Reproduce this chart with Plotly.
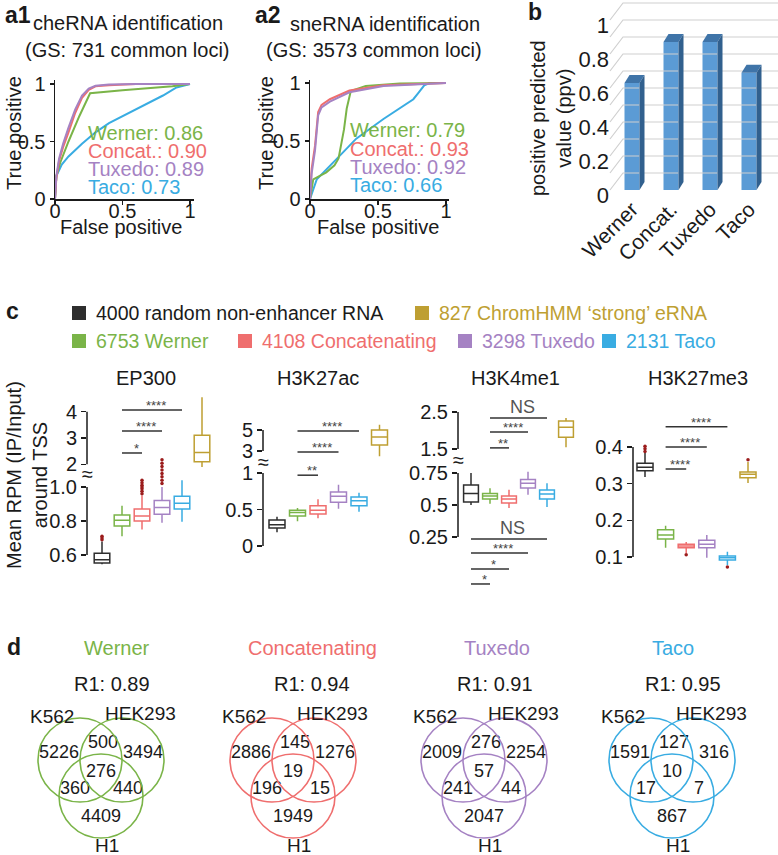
import plotly.graph_objects as go

W, H = 778, 855
FONT = "Liberation Sans, Arial, Helvetica, sans-serif"
INK = "#1a1a1a"

# ======================= DATA =======================
methods = ["Werner", "Concat.", "Tuxedo", "Taco"]
method_colors = ["#7ab448", "#ef6e6e", "#a582c3", "#39ace2"]

# ---- a1: cheRNA identification ROC ----
a1_auc = ["0.86", "0.90", "0.89", "0.73"]
a1_werner_fpr = [0, 0.01, 0.04, 0.10, 0.18, 0.26, 0.50, 0.87, 1.0]
a1_werner_tpr = [0, 0.20, 0.32, 0.50, 0.72, 0.92, 0.945, 0.98, 1.0]
a1_concat_fpr = [0, 0.01, 0.03, 0.06, 0.10, 0.15, 0.20, 0.25, 0.30, 0.40, 0.60, 1.0]
a1_concat_tpr = [0, 0.18, 0.33, 0.45, 0.58, 0.75, 0.88, 0.95, 0.98, 0.99, 1.0, 1.0]
a1_tuxedo_fpr = [0, 0.01, 0.03, 0.06, 0.10, 0.15, 0.20, 0.25, 0.30, 0.40, 0.60, 1.0]
a1_tuxedo_tpr = [0, 0.20, 0.35, 0.48, 0.62, 0.78, 0.90, 0.96, 0.985, 0.995, 1.0, 1.0]
a1_taco_fpr = [0, 0.01, 0.05, 0.10, 0.20, 0.30, 0.40, 0.50, 0.60, 0.70, 0.80, 0.90, 1.0]
a1_taco_tpr = [0, 0.20, 0.30, 0.37, 0.48, 0.58, 0.66, 0.72, 0.78, 0.84, 0.90, 0.97, 1.0]

# ---- a2: sneRNA identification ROC ----
a2_auc = ["0.79", "0.93", "0.92", "0.66"]
a2_werner_fpr = [0, 0.024, 0.12, 0.18, 0.21, 0.25, 0.27, 0.30, 0.41, 0.66, 1.0]
a2_werner_tpr = [0, 0.17, 0.23, 0.29, 0.35, 0.60, 0.78, 0.93, 0.975, 0.995, 1.0]
a2_concat_fpr = [0, 0.012, 0.037, 0.05, 0.06, 0.085, 0.146, 0.29, 0.54, 1.0]
a2_concat_tpr = [0, 0.26, 0.46, 0.62, 0.75, 0.81, 0.86, 0.935, 0.98, 1.0]
a2_tuxedo_fpr = [0, 0.012, 0.037, 0.05, 0.06, 0.085, 0.146, 0.29, 0.54, 1.0]
a2_tuxedo_tpr = [0, 0.22, 0.42, 0.58, 0.72, 0.79, 0.84, 0.92, 0.975, 1.0]
a2_taco_fpr = [0, 0.05, 0.20, 0.34, 0.54, 0.66, 0.76, 0.80, 0.84, 0.88, 1.0]
a2_taco_tpr = [0, 0.17, 0.35, 0.52, 0.69, 0.78, 0.86, 0.92, 0.98, 1.0, 1.0]

# ---- b: positive predicted value ----
b_categories = ["Werner", "Concat.", "Tuxedo", "Taco"]
b_ppv = [0.63, 0.87, 0.87, 0.69]
b_ticks = [0, 0.2, 0.4, 0.6, 0.8, 1.0]
b_grid = [0, 0.1, 0.2, 0.3, 0.4, 0.5, 0.6, 0.7, 0.8, 0.9, 1.0]

# ---- c: box plots ----
c_groups = ["4000 random non-enhancer RNA", "6753 Werner", "4108 Concatenating",
            "3298 Tuxedo", "2131 Taco", "827 ChromHMM \u2018strong\u2019 eRNA"]
c_colors = ["#2e2e2e", "#7ab448", "#ef6e6e", "#a582c3", "#39ace2", "#be9f32"]
c_marks = ["EP300", "H3K27ac", "H3K4me1", "H3K27me3"]

ep300_lower = [0.545, 0.71, 0.75, 0.79, 0.795, 1.9]
ep300_q1 = [0.553, 0.77, 0.80, 0.84, 0.87, 2.1]
ep300_median = [0.572, 0.805, 0.83, 0.88, 0.905, 2.45]
ep300_q3 = [0.61, 0.835, 0.87, 0.92, 0.945, 3.1]
ep300_upper = [0.68, 0.89, 0.95, 1.0, 1.04, 4.55]
ep300_outliers = [[0.69, 0.70, 0.71], [], [0.96, 0.975, 0.99, 1.0, 1.01, 1.025, 1.04],
                  [1.02, 1.04, 1.06, 1.08, 1.10, 1.12, 1.14, 1.16], [], []]
ep300_sig = [(1, 4, 4.06, "****", "U"), (1, 3, 3.27, "****", "U"), (1, 2, 2.43, "*", "U")]

h3k27ac_lower = [0.19, 0.34, 0.38, 0.51, 0.47, 2.5]
h3k27ac_q1 = [0.247, 0.41, 0.44, 0.60, 0.55, 3.57]
h3k27ac_median = [0.29, 0.46, 0.49, 0.68, 0.62, 4.33]
h3k27ac_q3 = [0.356, 0.49, 0.55, 0.74, 0.67, 5.0]
h3k27ac_upper = [0.40, 0.52, 0.64, 0.84, 0.73, 5.5]
h3k27ac_outliers = [[], [], [], [], [], []]
h3k27ac_sig = [(1, 4, 4.9, "****", "U"), (1, 3, 2.9, "****", "U"), (1, 2, 0.97, "**", "L")]

h3k4me1_lower = [0.50, 0.51, 0.477, 0.58, 0.485, 1.55]
h3k4me1_q1 = [0.523, 0.547, 0.516, 0.633, 0.547, 1.82]
h3k4me1_median = [0.59, 0.57, 0.547, 0.67, 0.586, 2.09]
h3k4me1_q3 = [0.656, 0.59, 0.57, 0.70, 0.617, 2.26]
h3k4me1_upper = [0.75, 0.63, 0.62, 0.76, 0.67, 2.34]
h3k4me1_outliers = [[], [], [], [], [], []]
h3k4me1_sig = [(1, 4, 2.34, "NS", "U"), (1, 3, 1.96, "****", "U"), (1, 2, 1.53, "**", "U"),
               (0, 4, 0.234, "NS", "L"), (0, 3, 0.125, "****", "L"),
               (0, 2, 0.0, "*", "L"), (0, 1, -0.117, "*", "L")]

h3k27me3_lower = [0.318, 0.125, 0.111, 0.098, 0.078, 0.302]
h3k27me3_q1 = [0.335, 0.149, 0.125, 0.125, 0.092, 0.316]
h3k27me3_median = [0.345, 0.16, 0.13, 0.135, 0.098, 0.326]
h3k27me3_q3 = [0.356, 0.174, 0.135, 0.146, 0.103, 0.332]
h3k27me3_upper = [0.384, 0.185, 0.141, 0.16, 0.114, 0.359]
h3k27me3_outliers = [[0.388, 0.395, 0.402], [], [0.106], [], [0.073], [0.365]]
h3k27me3_sig = [(1, 4, 0.455, "****", "L"), (1, 3, 0.40, "****", "L"), (1, 2, 0.34, "****", "L")]

# ---- d: Venn diagrams ----
venn_names = ["Werner", "Concatenating", "Tuxedo", "Taco"]
venn_r1 = ["0.89", "0.94", "0.91", "0.95"]
venn_sets = ["K562", "HEK293", "H1"]
# order: K562 only, K562&HEK293, HEK293 only, all three, K562&H1, HEK293&H1, H1 only
venn_werner = [5226, 500, 3494, 276, 360, 440, 4409]
venn_concat = [2886, 145, 1276, 19, 196, 15, 1949]
venn_tuxedo = [2009, 276, 2254, 57, 241, 44, 2047]
venn_taco = [1591, 127, 316, 10, 17, 7, 867]

# ======================= HELPERS =======================
fig = go.Figure()
annotations = []
shapes = []
layout_axes = {}


def fx(p):
    return p / W


def fy(p):
    return 1 - p / H


def inv_map(vmap):
    v1, p1, v2, p2 = vmap
    k = (p2 - p1) / (v2 - v1)
    return lambda p: v1 + (p - p1) / k


def xcfg(pl, pr, vmap):
    inv = inv_map(vmap)
    return dict(domain=[fx(pl), fx(pr)], range=[inv(pl), inv(pr)])


def ycfg(pt, pb, vmap):
    inv = inv_map(vmap)
    return dict(domain=[fy(pb), fy(pt)], range=[inv(pb), inv(pt)])


def ann(text, x, y, size=20, color=INK, xanchor="center", yanchor="middle", angle=0):
    annotations.append(dict(text=text, x=fx(x), y=fy(y), xref="paper", yref="paper",
                            showarrow=False, xanchor=xanchor, yanchor=yanchor,
                            textangle=angle, font=dict(size=size, color=color, family=FONT)))


# ======================= PANEL a =======================
def roc_panel(xn, yn, xpx, ypx, xmap, ymap, curves, aucs, leg_x, leg_y):
    xa = xcfg(xpx[0], xpx[1], xmap)
    ya = ycfg(ypx[0], ypx[1], ymap)
    common = dict(showline=True, linecolor=INK, linewidth=1.5, ticks="outside", ticklen=4,
                  tickwidth=1.5, tickcolor=INK, showgrid=False, zeroline=False,
                  tickvals=[0, 0.5, 1], ticktext=["0", "0.5", "1"],
                  tickfont=dict(size=20, color=INK, family=FONT))
    layout_axes["xaxis" + xn] = dict(xa, anchor="y" + yn, ticklabelstandoff=-11, **common)
    layout_axes["yaxis" + yn] = dict(ya, anchor="x" + xn, **common)
    for idx in [3, 0, 1, 2]:
        fpr, tpr = curves[idx]
        fig.add_trace(go.Scatter(x=fpr, y=tpr, mode="lines", line=dict(color=method_colors[idx], width=2),
                                 xaxis="x" + xn, yaxis="y" + yn, showlegend=False, hoverinfo="skip"))
    for idx in range(4):
        ann(f"{methods[idx]}: {aucs[idx]}", leg_x, leg_y[idx], size=20, color=method_colors[idx],
            xanchor="left")


roc_panel("", "", (55, 194), (80, 199), (0, 55, 1, 190), (0, 199, 1, 84),
          [(a1_werner_fpr, a1_werner_tpr), (a1_concat_fpr, a1_concat_tpr),
           (a1_tuxedo_fpr, a1_tuxedo_tpr), (a1_taco_fpr, a1_taco_tpr)],
          a1_auc, 86, [133, 151, 169, 187])
roc_panel("2", "2", (310, 449), (80, 199), (0, 310, 1, 446), (0, 199, 1, 83),
          [(a2_werner_fpr, a2_werner_tpr), (a2_concat_fpr, a2_concat_tpr),
           (a2_tuxedo_fpr, a2_tuxedo_tpr), (a2_taco_fpr, a2_taco_tpr)],
          a2_auc, 348, [130, 149, 167, 185])

ann("<b>a1</b>", 3, 15, size=23, xanchor="left")
ann("<b>a2</b>", 253, 15, size=23, xanchor="left")
ann("cheRNA identification", 128, 23)
ann("(GS: 731 common loci)", 127, 50)
ann("sneRNA identification", 385, 24)
ann("(GS: 3573 common loci)", 374, 50)
ann("True positive", 14, 133, angle=-90)
ann("True positive", 266, 133, angle=-90)
ann("False positive", 121, 227)
ann("False positive", 378, 227)

# ======================= PANEL b =======================
b_xmap = (0, 632, 1, 671)      # category slot -> px
b_ymap = (0, 190, 1, 20)       # value -> px (front plane)
bx = xcfg(588, 778, b_xmap)
by = ycfg(0, 192, b_ymap)
layout_axes["xaxis3"] = dict(bx, anchor="y3", showline=False, showgrid=False, zeroline=False,
                             tickvals=list(range(len(b_categories))), ticktext=b_categories,
                             tickangle=-45, ticks="", tickfont=dict(size=21, color=INK, family=FONT))
layout_axes["yaxis3"] = dict(by, anchor="x3", showline=False, showgrid=False, zeroline=False,
                             tickvals=b_ticks, ticktext=["0", "0.2", "0.4", "0.6", "0.8", "1"],
                             ticks="", ticklabelstandoff=-22, ticklabelshift=5,
                             tickfont=dict(size=22, color=INK, family=FONT))
slot_px = 39.0
val_px = 170.0
wall_x0 = (610 - 632) / slot_px
wall_dx = 13 / slot_px
wall_dy = 17 / val_px
bar_w = 15 / slot_px
bar_dx = 5 / slot_px
bar_dy = 8 / val_px
gx, gy = [], []
xr_end = bx["range"][1]
for g in b_grid:
    gx += [wall_x0, wall_x0 + wall_dx, xr_end, None]
    gy += [g, g + wall_dy, g + wall_dy, None]
fig.add_trace(go.Scatter(x=gx, y=gy, mode="lines", line=dict(color="#d0d0d0", width=1.2),
                         xaxis="x3", yaxis="y3", showlegend=False, hoverinfo="skip"))
fig.add_trace(go.Bar(x=list(range(len(b_ppv))), y=b_ppv, width=bar_w, marker=dict(color="#5b9bd5", line=dict(width=0)),
                     xaxis="x3", yaxis="y3", showlegend=False, hoverinfo="skip"))
for i, v in enumerate(b_ppv):
    l, r = i - bar_w / 2, i + bar_w / 2
    fig.add_trace(go.Scatter(x=[l, r, r + bar_dx, l + bar_dx, l], y=[v, v, v + bar_dy, v + bar_dy, v],
                             fill="toself", fillcolor="#3f74a8", mode="lines", line=dict(width=0, color="#3f74a8"),
                             xaxis="x3", yaxis="y3", showlegend=False, hoverinfo="skip"))
    fig.add_trace(go.Scatter(x=[r, r + bar_dx, r + bar_dx, r, r], y=[0, bar_dy, v + bar_dy, v, 0],
                             fill="toself", fillcolor="#31608e", mode="lines", line=dict(width=0, color="#31608e"),
                             xaxis="x3", yaxis="y3", showlegend=False, hoverinfo="skip"))
ann("<b>b</b>", 526, 12, size=23, xanchor="left")
ann("positive predicted<br>value (ppv)", 551, 118, size=20, angle=-90)

# ======================= PANEL c =======================
ann("<b>c</b>", 4, 311, size=23, xanchor="left")
legend_pos = [(72, 313), (72, 341), (238, 341), (458, 341), (602, 341), (415, 313)]
for gi, (sx, sy) in enumerate(legend_pos):
    shapes.append(dict(type="rect", xref="paper", yref="paper", x0=fx(sx), x1=fx(sx + 14),
                       y0=fy(sy + 7), y1=fy(sy - 7), fillcolor=c_colors[gi], line=dict(width=0)))
    ann(c_groups[gi], sx + 22, sy, size=19.5, color=(INK if gi == 0 else c_colors[gi]), xanchor="left")

ann("Mean RPM (IP/Input)<br>around TSS", 27, 475, size=20, angle=-90)

c_stats = [
    (ep300_lower, ep300_q1, ep300_median, ep300_q3, ep300_upper, ep300_outliers, ep300_sig),
    (h3k27ac_lower, h3k27ac_q1, h3k27ac_median, h3k27ac_q3, h3k27ac_upper, h3k27ac_outliers, h3k27ac_sig),
    (h3k4me1_lower, h3k4me1_q1, h3k4me1_median, h3k4me1_q3, h3k4me1_upper, h3k4me1_outliers, h3k4me1_sig),
    (h3k27me3_lower, h3k27me3_q1, h3k27me3_median, h3k27me3_q3, h3k27me3_upper, h3k27me3_outliers, h3k27me3_sig),
]

c_layout = [
    dict(xa=87, c0=102, s=20, xr=230, title_x=146, brk=474,
         L=dict(map=(0.6, 555, 1.0, 487), dom=(455, 580), ticks=[0.6, 0.8, 1.0], text=["0.6", "0.8", "1.0"], br=(0.6, 1.0)),
         U=dict(map=(2, 464.3, 4, 411.7), dom=(390, 470), ticks=[2, 3, 4], text=["2", "3", "4"], br=(2, 4))),
    dict(xa=263, c0=277, s=20.5, xr=400, title_x=318, brk=462,
         L=dict(map=(0, 546, 1, 473), dom=(465, 560), ticks=[0, 0.5, 1], text=["0", "0.5", "1"], br=(0, 1)),
         U=dict(map=(3, 451, 5, 430), dom=(405, 462), ticks=[3, 5], text=["3", "5"], br=(3, 5))),
    dict(xa=458, c0=471, s=19, xr=590, title_x=515, brk=460,
         L=dict(map=(0.25, 537, 0.75, 473), dom=(462, 595), ticks=[0.25, 0.5, 0.75], text=["0.25", "0.5", "0.75"], br=(0.25, 0.75)),
         U=dict(map=(1.5, 449, 2.5, 412), dom=(395, 462), ticks=[1.5, 2.5], text=["1.5", "2.5"], br=(1.5, 2.5))),
    dict(xa=633, c0=645, s=20.6, xr=776, title_x=698, brk=None,
         L=dict(map=(0.1, 557, 0.4, 447), dom=(410, 580), ticks=[0.1, 0.2, 0.3, 0.4], text=["0.1", "0.2", "0.3", "0.4"], br=(0.1, 0.4)),
         U=None),
]

ynum = 4
for mi, (mk, cfg, st) in enumerate(zip(c_marks, c_layout, c_stats)):
    xn = str(4 + mi)
    lows, q1s, meds, q3s, ups, outs, sigs = st
    layout_axes["xaxis" + xn] = dict(xcfg(cfg["xa"], cfg["xr"], (0, cfg["c0"], 1, cfg["c0"] + cfg["s"])),
                                     visible=False, anchor="y" + str(ynum))
    seg_axis = {}
    for seg in ["L", "U"]:
        sc = cfg[seg]
        if sc is None:
            continue
        yn = str(ynum)
        ynum += 1
        seg_axis[seg] = yn
        layout_axes["yaxis" + yn] = dict(ycfg(sc["dom"][0], sc["dom"][1], sc["map"]), anchor="x" + xn,
                                         showline=False, showgrid=False, zeroline=False,
                                         ticks="outside", ticklen=5, tickwidth=1.5, tickcolor=INK,
                                         tickvals=sc["ticks"], ticktext=sc["text"],
                                         tickfont=dict(size=20, color=INK, family=FONT))
        shapes.append(dict(type="line", xref="paper", yref="y" + yn, x0=fx(cfg["xa"]), x1=fx(cfg["xa"]),
                           y0=sc["br"][0], y1=sc["br"][1], line=dict(color=INK, width=1.5)))
    for gi in range(len(c_groups)):
        seg = "U" if (gi == 5 and "U" in seg_axis) else "L"
        yn = seg_axis[seg]
        fig.add_trace(go.Box(x=[gi], q1=[q1s[gi]], median=[meds[gi]], q3=[q3s[gi]],
                             lowerfence=[lows[gi]], upperfence=[ups[gi]], width=0.78, whiskerwidth=0,
                             line=dict(color=c_colors[gi], width=1.5), fillcolor="white", boxpoints=False,
                             xaxis="x" + xn, yaxis="y" + yn, showlegend=False, hoverinfo="skip"))
        if outs[gi]:
            fig.add_trace(go.Scatter(x=[gi] * len(outs[gi]), y=outs[gi], mode="markers",
                                     marker=dict(color="#9b1c1c", size=3.5), cliponaxis=False,
                                     xaxis="x" + xn, yaxis="y" + yn, showlegend=False, hoverinfo="skip"))
    for (i, j, yv, lab, seg) in sigs:
        yn = seg_axis[seg]
        fig.add_trace(go.Scatter(x=[i, j], y=[yv, yv], mode="lines", line=dict(color="#333333", width=1.5),
                                 xaxis="x" + xn, yaxis="y" + yn, showlegend=False, hoverinfo="skip"))
        is_ns = lab == "NS"
        annotations.append(dict(text=lab, x=(i + j) / 2 + 0.2, y=yv, xref="x" + xn, yref="y" + yn,
                                showarrow=False, xanchor="center", yanchor="bottom",
                                yshift=(-1 if is_ns else -5),
                                font=dict(size=(18 if is_ns else 13), color=("#555555" if is_ns else "#444444"),
                                          family=FONT)))
    ann(mk, cfg["title_x"], 378, size=20)
    if cfg["brk"] is not None:
        ann("\u2248", cfg["xa"], cfg["brk"], size=20)

# ======================= PANEL d =======================
ann("<b>d</b>", 5, 647, size=23, xanchor="left")
layout_axes["xaxis8"] = dict(xcfg(0, 778, (0, 0, 1, 1)), visible=False, anchor="y" + str(ynum))
layout_axes["yaxis" + str(ynum)] = dict(ycfg(690, 855, (0, 0, 1, 1)), visible=False, anchor="x8")
vy = "y" + str(ynum)
venn_cx = [80, 272, 463, 651]
venn_cy = 760
venn_r = 42
title_x = [117, 312, 497, 673]
r1_x = [112, 312, 495, 683]
cell_off = [(-21, -7), (23, -17), (63, -7), (21, 12), (-5, 29), (48, 29), (21, 57)]
venn_counts = [venn_werner, venn_concat, venn_tuxedo, venn_taco]
for vi in range(4):
    cx = venn_cx[vi]
    col = method_colors[vi]
    centers = [(cx, venn_cy), (cx + 42, venn_cy), (cx + 21, venn_cy + 36)]
    for (ccx, ccy) in centers:
        shapes.append(dict(type="circle", xref="x8", yref=vy, x0=ccx - venn_r, x1=ccx + venn_r,
                           y0=ccy - venn_r, y1=ccy + venn_r, line=dict(color=col, width=1.6),
                           fillcolor="rgba(0,0,0,0)"))
    fig.add_trace(go.Scatter(x=[cx + dx for dx, dy in cell_off], y=[venn_cy + dy for dx, dy in cell_off],
                             text=[str(v) for v in venn_counts[vi]], mode="text",
                             textfont=dict(size=18, color=INK, family=FONT),
                             xaxis="x8", yaxis=vy, showlegend=False, hoverinfo="skip"))
    ann(venn_names[vi], title_x[vi], 648, size=20, color=col)
    ann(f"R1: {venn_r1[vi]}", r1_x[vi], 684, size=20)
    ann(venn_sets[0], cx - 28, 716, size=19)
    ann(venn_sets[1], cx + 60, 713, size=19)
    ann(venn_sets[2], cx + 27, 845, size=19)

fig.update_layout(width=W, height=H, margin=dict(l=0, r=0, t=0, b=0, autoexpand=False),
                  paper_bgcolor="white", plot_bgcolor="rgba(0,0,0,0)",
                  font=dict(family=FONT, color=INK), showlegend=False,
                  annotations=annotations, shapes=shapes, **layout_axes)
fig.write_html("out.html", config={"displayModeBar": False, "staticPlot": True},
               post_script="document.body.style.margin='0px';")
